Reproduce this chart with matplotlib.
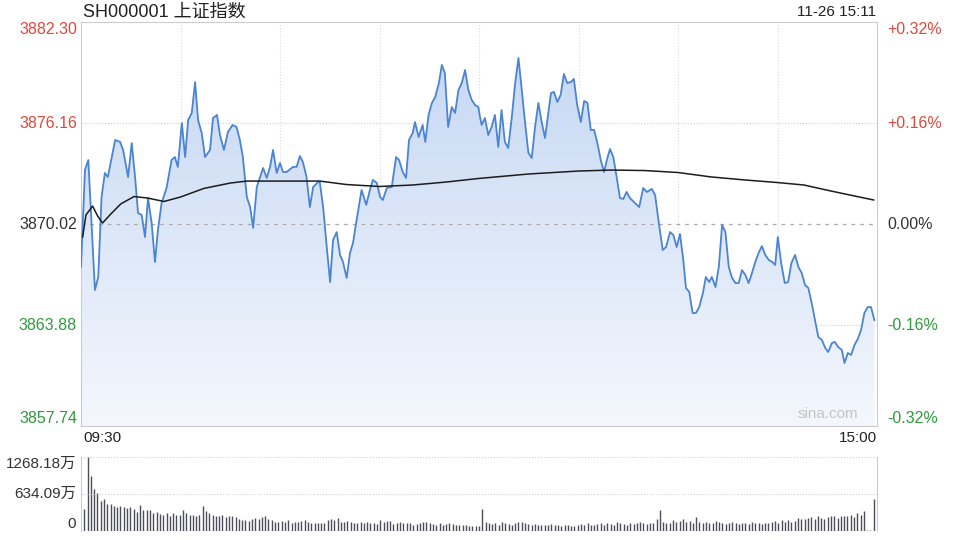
import numpy as np
import matplotlib
matplotlib.use('Agg')
import matplotlib.pyplot as plt
from matplotlib.colors import LinearSegmentedColormap
from matplotlib.patches import Polygon

# fonts: latin first, CJK as fallback
plt.rcParams['font.family'] = ['Liberation Sans', 'Noto Sans CJK SC', 'DejaVu Sans']

# chart text
title = 'SH000001 上证指数'
stamp = '11-26 15:11'
time_labels = ['09:30', '15:00']

# price axis
prev_close = 3870.02
price_ticks = [3882.30, 3876.16, 3870.02, 3863.88, 3857.74]
price_labels = ['3882.30', '3876.16', '3870.02', '3863.88', '3857.74']
pct_labels = ['+0.32%', '+0.16%', '0.00%', '-0.16%', '-0.32%']

# volume axis (unit: 万)
vol_ticks = [1268.18, 634.09, 0]
vol_labels = ['1268.18万', '634.09万', '0']

# price line, minutes after 09:30 (trading minutes, 0..240)
minutes = [0, 1.2, 2.2, 4.2, 5.2, 6.2, 7.2, 8.1, 10.3, 11.8,
           12.7, 14.2, 15.3, 16.3, 17.2, 18.3, 19.3, 20.2, 21.3, 22.3,
           23.2, 24.3, 25.8, 27.3, 28.3, 29.2, 30.4, 31.4, 32.3, 33.4,
           34.4, 35.3, 36.4, 37.4, 38.9, 39.8, 41.0, 41.9, 43.1, 44.3,
           45.7, 46.9, 47.9, 48.8, 50.0, 51.0, 51.9, 53.0, 54.0, 54.9,
           56.0, 57.0, 57.9, 59.0, 60.0, 60.9, 62.0, 63.9, 65.0, 66.0,
           66.9, 68.0, 69.0, 70.0, 71.5, 72.0, 73.0, 74.1, 75.1, 76.0,
           77.1, 78.1, 79.0, 80.1, 81.1, 82.0, 83.1, 84.6, 86.0, 87.1,
           88.0, 89.2, 90.2, 91.0, 92.2, 93.7, 95.0, 95.9, 97.0, 98.0,
           98.9, 100.0, 100.7, 101.8, 103.0, 103.8, 104.8, 105.8, 106.8, 107.9,
           108.8, 109.7, 110.7, 111.8, 112.8, 113.8, 114.8, 115.8, 116.8, 117.8,
           118.8, 119.8, 120.3, 120.8, 121.8, 122.8, 123.8, 124.8, 125.8, 126.8,
           127.8, 128.8, 129.9, 130.9, 131.9, 132.9, 133.9, 134.9, 135.9, 136.9,
           137.9, 138.9, 139.9, 140.9, 141.7, 142.6, 143.6, 144.6, 145.6, 146.6,
           147.7, 148.6, 149.6, 150.7, 151.7, 152.7, 153.7, 154.7, 155.7, 156.7,
           157.7, 158.7, 159.5, 160.5, 161.5, 162.5, 163.5, 164.5, 165.5, 167.0,
           168.3, 169.5, 170.6, 172.1, 173.1, 174.1, 175.4, 176.4, 177.6, 178.6,
           179.6, 180.6, 181.6, 182.4, 183.4, 184.4, 185.4, 186.4, 187.5, 188.4,
           189.4, 190.2, 191.3, 192.3, 193.3, 194.3, 195.3, 196.3, 197.3, 198.3,
           199.3, 200.3, 201.3, 202.3, 203.3, 204.3, 205.3, 206.3, 207.4, 208.4,
           209.3, 210.1, 211.1, 212.2, 213.2, 214.2, 215.3, 216.3, 217.3, 218.3,
           219.3, 220.3, 221.3, 222.3, 223.4, 224.4, 225.3, 226.4, 227.3, 228.3,
           229.4, 230.2, 231.2, 232.2, 233.2, 234.2, 235.2, 236.2, 237.2, 238.2,
           239.2]

prices = [3867.42, 3873.30, 3873.91, 3866.01, 3866.80, 3871.66, 3873.12, 3872.88, 3875.13, 3875.01,
          3874.52, 3872.88, 3874.94, 3872.88, 3870.69, 3870.57, 3869.23, 3871.60, 3870.08, 3867.71,
          3869.66, 3871.30, 3872.21, 3873.91, 3874.09, 3873.49, 3876.16, 3874.09, 3876.34, 3876.77,
          3878.65, 3876.34, 3875.55, 3874.09, 3874.52, 3876.46, 3876.65, 3875.43, 3874.52, 3875.61,
          3876.04, 3875.92, 3875.13, 3874.09, 3871.66, 3871.05, 3869.78, 3872.27, 3872.88, 3873.42,
          3872.82, 3873.49, 3874.52, 3873.12, 3873.73, 3873.18, 3873.18, 3873.49, 3873.49, 3874.15,
          3873.79, 3872.88, 3871.05, 3872.27, 3872.57, 3872.57, 3871.05, 3868.62, 3866.49, 3869.05,
          3869.53, 3868.14, 3867.71, 3866.74, 3868.26, 3868.86, 3870.26, 3872.09, 3871.18, 3872.09,
          3872.70, 3872.51, 3871.66, 3871.48, 3872.21, 3872.27, 3874.09, 3873.91, 3873.18, 3872.82,
          3875.13, 3875.55, 3876.22, 3875.31, 3876.04, 3875.01, 3876.65, 3877.38, 3877.74, 3878.59,
          3879.69, 3879.20, 3875.92, 3877.13, 3876.77, 3878.17, 3878.59, 3879.38, 3878.17, 3877.56,
          3877.26, 3877.13, 3876.53, 3876.04, 3876.46, 3875.43, 3875.92, 3876.65, 3874.70, 3876.95,
          3875.01, 3874.64, 3876.53, 3878.59, 3880.11, 3878.17, 3876.16, 3874.34, 3874.03, 3875.92,
          3877.38, 3876.22, 3875.25, 3876.77, 3877.98, 3878.05, 3877.44, 3877.86, 3879.14, 3878.59,
          3878.65, 3878.84, 3877.26, 3876.22, 3877.50, 3877.38, 3875.74, 3875.74, 3874.94, 3873.91,
          3873.18, 3874.03, 3874.58, 3874.09, 3872.88, 3871.60, 3871.54, 3871.97, 3871.60, 3871.30,
          3871.05, 3872.21, 3871.97, 3872.15, 3871.78, 3870.26, 3868.44, 3868.62, 3869.53, 3869.35,
          3868.62, 3869.41, 3867.83, 3866.13, 3865.89, 3864.61, 3864.61, 3864.97, 3865.82, 3866.80,
          3866.49, 3866.80, 3866.19, 3867.41, 3869.96, 3869.53, 3867.41, 3866.74, 3866.43, 3866.43,
          3867.22, 3866.92, 3866.43, 3867.04, 3867.71, 3868.26, 3868.68, 3868.14, 3867.83, 3867.71,
          3867.53, 3869.23, 3867.65, 3866.43, 3866.49, 3867.65, 3868.14, 3867.41, 3867.04, 3866.31,
          3866.13, 3865.22, 3864.18, 3863.15, 3862.97, 3862.48, 3862.24, 3862.78, 3862.85, 3862.54,
          3862.36, 3861.57, 3862.18, 3862.06, 3862.66, 3863.03, 3863.58, 3864.61, 3864.97, 3864.97,
          3864.18]

# average price line
avg_minutes = [0.5, 1.5, 3.5, 5, 6.5, 9, 12, 16, 20, 25, 30, 37, 45, 50, 60, 72, 80, 90,
               100, 110, 120, 135, 150, 160, 170, 180, 190, 200, 210, 218, 226, 234, 239]
avg_prices = [3869.23, 3870.57, 3871.11, 3870.51, 3870.08, 3870.63, 3871.24, 3871.69, 3871.60,
              3871.39, 3871.66, 3872.18, 3872.51, 3872.63, 3872.63, 3872.63, 3872.42, 3872.30,
              3872.39, 3872.57, 3872.79, 3873.06, 3873.24, 3873.30, 3873.27, 3873.15, 3872.88,
              3872.70, 3872.54, 3872.39, 3872.03, 3871.69, 3871.48]

# volume per minute (万)
volume = [370, 1268, 940, 720, 650, 510, 540, 470, 470, 430,
          415, 420, 410, 390, 410, 380, 330, 440, 360, 360,
          360, 300, 330, 290, 280, 310, 260, 300, 280, 270,
          360, 300, 280, 270, 250, 270, 420, 340, 300, 280,
          260, 250, 270, 240, 250, 250, 240, 210, 190, 180,
          170, 210, 220, 200, 240, 250, 210, 190, 150, 160,
          170, 150, 180, 140, 150, 150, 170, 180, 150, 140,
          130, 140, 140, 140, 190, 200, 180, 230, 160, 150,
          170, 160, 140, 140, 150, 140, 160, 130, 140, 120,
          180, 150, 170, 170, 120, 140, 160, 130, 130, 140,
          110, 120, 130, 150, 160, 130, 120, 110, 140, 110,
          120, 140, 120, 100, 110, 100, 100, 90, 90, 80,
          80, 370, 150, 130, 120, 140, 110, 160, 130, 120,
          110, 140, 160, 150, 130, 120, 110, 120, 110, 100,
          110, 100, 120, 110, 110, 90, 100, 110, 90, 80,
          100, 120, 110, 130, 100, 110, 120, 140, 110, 130,
          120, 110, 150, 140, 120, 110, 130, 120, 140, 150,
          130, 120, 140, 130, 200, 360, 150, 130, 140, 180,
          150, 170, 200, 150, 170, 140, 240, 160, 140, 150,
          130, 140, 170, 150, 130, 120, 140, 160, 130, 120,
          140, 130, 120, 150, 140, 130, 120, 140, 130, 150,
          170, 140, 190, 160, 180, 150, 170, 230, 210, 200,
          220, 240, 210, 250, 230, 200, 240, 260, 250, 230,
          250, 250, 260, 270, 240, 300, 280, 340, 20, 20,
          540]

red = '#e0483e'
green = '#2e9a3c'
dark = '#333333'
label_colours = [red, red, dark, green, green]

W, H = 960, 540
fig = plt.figure(figsize=(9.6, 5.4), dpi=100)
fig.patch.set_facecolor('white')

# main price panel
ax = fig.add_axes([81 / W, 1 - 426 / H, 796 / W, 404 / H])
ymin, ymax = price_ticks[-1], price_ticks[0]

# gradient fill under the price line
grad = np.linspace(0, 1, 256).reshape(-1, 1)
cmap = LinearSegmentedColormap.from_list('fill', ['#c3d6f3', '#f4f7fd'])
im = ax.imshow(grad, cmap=cmap, aspect='auto', origin='upper',
               extent=[0, 240, ymin, ymax], zorder=1)
verts = [(minutes[0], ymin)] + list(zip(minutes, prices)) + [(minutes[-1], ymin)]
clip = Polygon(verts, closed=True, facecolor='none', edgecolor='none')
ax.add_patch(clip)
im.set_clip_path(clip)

# grid lines
for m in range(30, 240, 30):
    ax.axvline(m, color='#dcdcdc', lw=0.8, ls=':', zorder=0.5)
for v in [price_ticks[1], price_ticks[3]]:
    ax.axhline(v, color='#cfcfcf', lw=0.8, ls=':', zorder=0.5)
ax.axhline(prev_close, color='#aaaaaa', lw=0.9, ls=(0, (3, 4)), zorder=2)

ax.plot(minutes, prices, color='#4a84d2', lw=1.3, zorder=3)
ax.plot(avg_minutes, avg_prices, color='#1c1c1c', lw=1.1, zorder=4)

ax.set_xlim(0, 240)
ax.set_ylim(ymin, ymax)
ax.set_xticks([])
ax.set_yticks([])
for s in ax.spines.values():
    s.set_color('#cccccc')
    s.set_linewidth(0.8)

# price and percent labels
ytr = ax.get_yaxis_transform()
for i, (v, lab, pct) in enumerate(zip(price_ticks, price_labels, pct_labels)):
    va = 'top' if i == 0 else ('bottom' if i == len(price_ticks) - 1 else 'center')
    ax.text(-4 / 796, v, lab, transform=ytr, ha='right', va=va,
            fontsize=11.5, color=label_colours[i])
    ax.text(1 + 10 / 796, v, pct, transform=ytr, ha='left', va=va,
            fontsize=11.5, color=label_colours[i])

ax.text(0.976, 0.012, 'sina.com', transform=ax.transAxes, ha='right', va='bottom',
        fontsize=11, color='#c4c4c4')

# header and time labels
fig.text(83 / W, 1 - 12 / H, title, ha='left', va='center', fontsize=13, color='#222222')
fig.text(876 / W, 1 - 12 / H, stamp, ha='right', va='center', fontsize=11, color='#222222')
fig.text(83 / W, 1 - 438 / H, time_labels[0], ha='left', va='center', fontsize=11, color='#222222')
fig.text(877 / W, 1 - 438 / H, time_labels[1], ha='right', va='center', fontsize=11, color='#222222')

# volume panel
axv = fig.add_axes([81 / W, 1 - 531 / H, 796 / W, 74 / H])
axv.vlines(np.arange(len(volume)), 0, volume, color='#4e4e5a', lw=1.0)
axv.axhline(vol_ticks[1], color='#cfcfcf', lw=0.8, ls=':')
axv.axhline(vol_ticks[0], color='#cfcfcf', lw=0.8, ls=':')
axv.set_xlim(-1, 241)
axv.set_ylim(0, vol_ticks[0])
axv.set_xticks([])
axv.set_yticks([])
for side in ['top', 'bottom']:
    axv.spines[side].set_visible(False)
for side in ['left', 'right']:
    axv.spines[side].set_color('#cccccc')
    axv.spines[side].set_linewidth(0.8)

vtr = axv.get_yaxis_transform()
for i, (v, lab) in enumerate(zip(vol_ticks, vol_labels)):
    va = 'top' if i == 0 else ('bottom' if i == len(vol_ticks) - 1 else 'center')
    axv.text(-5 / 796, v, lab, transform=vtr, ha='right', va=va, fontsize=11, color=dark)

fig.savefig('out.png', dpi=100)
